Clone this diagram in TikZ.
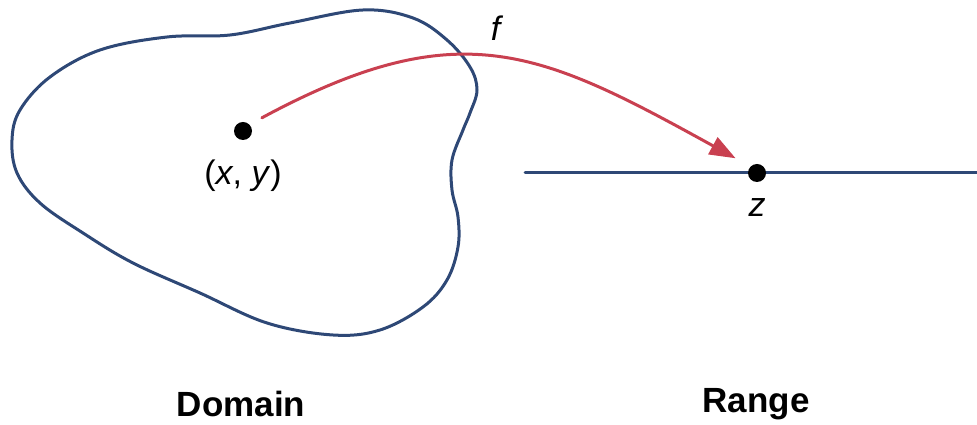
\documentclass[tikz,border=0pt]{standalone}
\usepackage{fontspec}
\setmainfont{Liberation Sans}
\usetikzlibrary{arrows.meta,positioning}

\definecolor{domainblue}{RGB}{46,72,118}
\definecolor{maparrow}{RGB}{201,64,80}

\begin{document}
\begin{tikzpicture}[
		x=1pt, y=1pt,
		line join=round,
		line cap=round,
		blob/.style={domainblue, line width=3pt},
		rangeline/.style={domainblue, line width=3pt},
		mapsto/.style={-{Triangle[length=26pt, width=19pt]}, maparrow, line width=3pt},
		pt/.style={circle, fill=black, inner sep=0pt, minimum size=18pt},
		lab/.style={font=\fontsize{34}{40}\selectfont, inner sep=1pt},
		title/.style={font=\fontsize{35}{42}\selectfont\bfseries, inner sep=1pt}
	]
	
	\useasboundingbox (0,0) rectangle (977,425);
	
	% Domain outline
	\draw[blob] plot[smooth cycle, tension=0.6] coordinates {
		(363,415) (413,407) (447,385) (470,358) (477,335) (470,312)
		(463,295) (452,265) (452,235) (458,208) (458,178) (447,145)
		(423,118) (380,95) (333,90) (267,102) (200,132) (133,162)
		(83,192) (40,222) (17,252) (12,285) (20,315) (50,348)
		(100,375) (167,388) (230,390) (290,402)
	};
	
	% Range line
	\coordinate (rl) at (525,252);
	\coordinate (rr) at (977,252);
	\draw[rangeline] (rl) -- (rr);
	
	% Points
	\node[pt] (xy) at (243,294) {};
	\node[pt] (z) at (757,252) {};
	
	% Labels
	\node[lab] (xylab) at (243,249) {(\textit{x}, \textit{y})};
	\node[lab] (zlab) at (757,217) {\textit{z}};
	\node[lab] (flab) at (497,397) {\textit{f}};
	
	% Map f
	\draw[mapsto, shorten <=14pt, shorten >=17pt]
	(xy.45) .. controls (460,414) and (541,374) .. (z.135);
	
	% Titles
	\node[title] (dom) at (241,21) {Domain};
	\node[title] (ran) at (756,21) {Range};
	
\end{tikzpicture}
\end{document}
